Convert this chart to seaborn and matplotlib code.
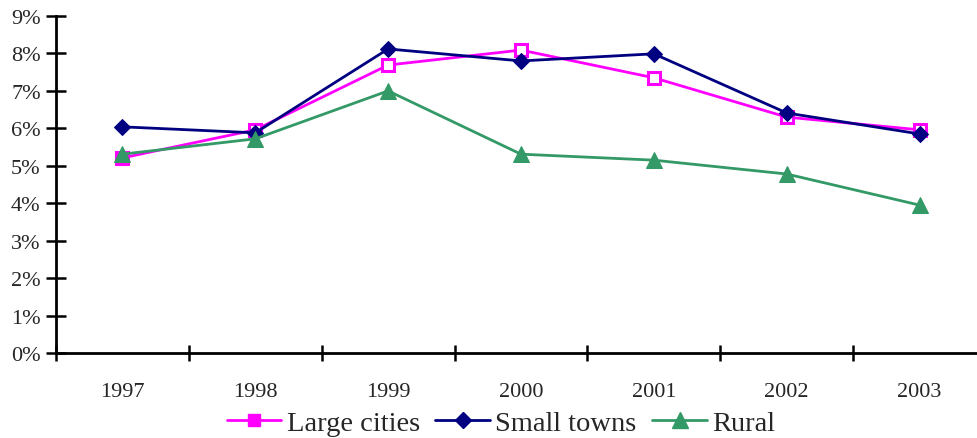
import matplotlib
matplotlib.use("Agg")
import matplotlib.pyplot as plt
import seaborn as sns
import pandas as pd
import numpy as np
from matplotlib.ticker import FixedLocator, PercentFormatter
from matplotlib.lines import Line2D

years = ["1997", "1998", "1999", "2000", "2001", "2002", "2003"]
large_cities = [5.21, 5.96, 7.69, 8.09, 7.35, 6.30, 5.96]
small_towns = [6.04, 5.88, 8.12, 7.80, 7.99, 6.41, 5.85]
rural = [5.31, 5.72, 7.00, 5.31, 5.15, 4.78, 3.95]
series_names = ["Large cities", "Small towns", "Rural"]
y_ticks = [0, 1, 2, 3, 4, 5, 6, 7, 8, 9]

colors = {"Large cities": "#FF00FF", "Small towns": "#000080", "Rural": "#339966"}
markers = {"Large cities": "s", "Small towns": "D", "Rural": "^"}

df = pd.DataFrame({
    "pos": list(range(len(years))) * 3,
    "value": large_cities + small_towns + rural,
    "series": [s for s in series_names for _ in years],
})

sns.set_style("white")
plt.rcParams["font.family"] = ["Liberation Serif", "DejaVu Serif"]

fig = plt.figure(figsize=(9.77, 4.39), dpi=100)
# plot area runs slightly past the right edge of the canvas
ax = fig.add_axes([56 / 977, (439 - 354) / 439, 930 / 977, (354 - 17) / 439])

sns.lineplot(data=df, x="pos", y="value", hue="series", style="series",
             palette=colors, markers=markers, dashes=False, linewidth=2,
             markersize=9, legend=False, ax=ax, zorder=3)

for line, name in zip(ax.get_lines(), series_names):
    line.set_clip_on(False)
    if name == "Large cities":
        line.set_markerfacecolor("white")
        line.set_markeredgecolor("#FF00FF")
        line.set_markeredgewidth(2.2)
        line.set_markersize(9)
    elif name == "Small towns":
        line.set_markerfacecolor("#000080")
        line.set_markeredgecolor("#000080")
        line.set_markersize(8)
    else:
        line.set_markerfacecolor("#339966")
        line.set_markeredgecolor("#339966")
        line.set_markersize(11)

ax.set_xlim(-0.5, len(years) - 0.5)
ax.set_ylim(0, 9)

ax.xaxis.set_major_locator(FixedLocator(np.arange(-0.5, len(years), 1.0)))
ax.xaxis.set_minor_locator(FixedLocator(np.arange(len(years))))
ax.set_xticklabels([""] * (len(years) + 1))
ax.set_xticklabels(years, minor=True)
ax.tick_params(axis="x", which="major", direction="inout", length=12, width=1.8, color="black")
ax.tick_params(axis="x", which="minor", length=0, pad=21, labelsize=16)

ax.set_yticks(y_ticks)
ax.yaxis.set_major_formatter(PercentFormatter(decimals=0))
ax.tick_params(axis="y", direction="inout", length=14, width=1.8, color="black",
               labelsize=16, pad=4)
ax.tick_params(left=True, bottom=True)

for side in ["top", "right"]:
    ax.spines[side].set_visible(False)
for side in ["left", "bottom"]:
    ax.spines[side].set_color("black")
    ax.spines[side].set_linewidth(2)
ax.set_xlabel("")
ax.set_ylabel("")
ax.grid(False)

handles = []
for name in series_names:
    if name == "Large cities":
        h = Line2D([], [], color=colors[name], lw=2, marker="s", markersize=9,
                   markerfacecolor=colors[name], markeredgecolor=colors[name])
    elif name == "Small towns":
        h = Line2D([], [], color=colors[name], lw=2, marker="D", markersize=8,
                   markerfacecolor=colors[name], markeredgecolor=colors[name])
    else:
        h = Line2D([], [], color=colors[name], lw=2, marker="^", markersize=11,
                   markerfacecolor=colors[name], markeredgecolor=colors[name])
    handles.append(h)

fig.legend(handles, series_names, loc="center", bbox_to_anchor=(501 / 977, 1 - 424 / 439),
           ncol=3, frameon=False, fontsize=20.5, handlelength=1.93, handletextpad=0.18,
           columnspacing=0.55, borderpad=0)

fig.savefig("out.png", dpi=100)
